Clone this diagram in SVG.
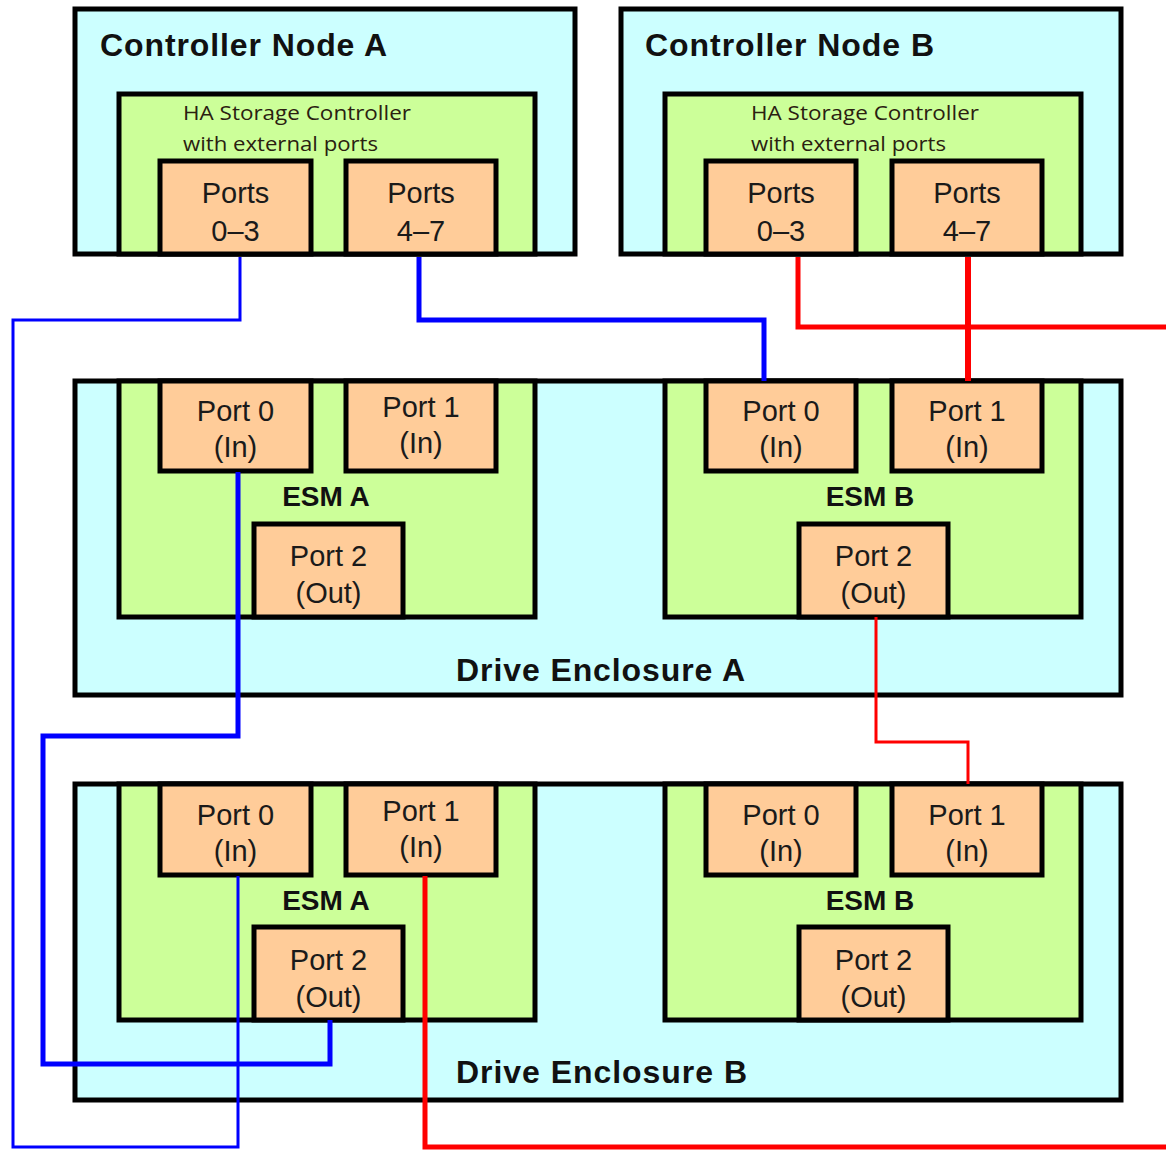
<svg xmlns="http://www.w3.org/2000/svg" width="1166" height="1151" viewBox="0 0 1166 1151">
  <style>
    .outer { fill: #CCFFFF; stroke: #000; stroke-width: 5; }
    .module { fill: #CCFF99; stroke: #000; stroke-width: 5; }
    .port { fill: #FFCC99; stroke: #000; stroke-width: 5; }
    .title { font-family: "Liberation Sans", Arial, sans-serif; font-weight: bold; font-size: 32px; fill: #111; }
    .esm { font-family: "Liberation Sans", Arial, sans-serif; font-weight: bold; font-size: 28px; fill: #111; text-anchor: middle; }
    .plabel { font-family: "Liberation Sans", Arial, sans-serif; font-size: 29px; fill: #1a1a1a; text-anchor: middle; }
    .ha { font-family: "Open Sans", "Noto Sans", sans-serif; font-size: 20px; fill: #2a2010; }
    .wire { fill: none; stroke-linejoin: miter; stroke-linecap: butt; }
    .blue { stroke: #0000FF; }
    .red { stroke: #FF0000; }
  </style>

  <!-- Controller Node A -->
  <g id="controller-a">
    <rect class="outer" x="75" y="9" width="500" height="245"/>
    <text class="title" x="100" y="56" textLength="287" lengthAdjust="spacing">Controller Node A</text>
    <rect class="module" x="119" y="94" width="416" height="160"/>
    <text class="ha" x="183" y="120" textLength="228" lengthAdjust="spacingAndGlyphs">HA Storage Controller</text>
    <text class="ha" x="183" y="151" textLength="195" lengthAdjust="spacingAndGlyphs">with external ports</text>
    <g id="controller-a-ports-0-3">
      <rect class="port" x="160" y="161" width="151" height="93"/>
      <text class="plabel" x="235.5" y="203">Ports</text>
      <text class="plabel" x="235.5" y="241">0–3</text>
    </g>
    <g id="controller-a-ports-4-7">
      <rect class="port" x="346" y="161" width="150" height="93"/>
      <text class="plabel" x="421" y="203">Ports</text>
      <text class="plabel" x="421" y="241">4–7</text>
    </g>
  </g>

  <!-- Controller Node B -->
  <g id="controller-b">
    <rect class="outer" x="621" y="9" width="500" height="245"/>
    <text class="title" x="645" y="56" textLength="289" lengthAdjust="spacing">Controller Node B</text>
    <rect class="module" x="665" y="94" width="416" height="160"/>
    <text class="ha" x="751" y="120" textLength="228" lengthAdjust="spacingAndGlyphs">HA Storage Controller</text>
    <text class="ha" x="751" y="151" textLength="195" lengthAdjust="spacingAndGlyphs">with external ports</text>
    <g id="controller-b-ports-0-3">
      <rect class="port" x="706" y="161" width="150" height="93"/>
      <text class="plabel" x="781" y="203">Ports</text>
      <text class="plabel" x="781" y="241">0–3</text>
    </g>
    <g id="controller-b-ports-4-7">
      <rect class="port" x="892" y="161" width="150" height="93"/>
      <text class="plabel" x="967" y="203">Ports</text>
      <text class="plabel" x="967" y="241">4–7</text>
    </g>
  </g>

  <!-- Drive Enclosure A -->
  <g id="enclosure-a">
    <rect class="outer" x="75" y="381" width="1046" height="314"/>
    <text class="title" x="456" y="681" textLength="289" lengthAdjust="spacing">Drive Enclosure A</text>
    <g id="enclosure-a-esm-a">
      <rect class="module" x="119" y="381" width="416" height="236"/>
      <text class="esm" x="326" y="506">ESM A</text>
      <rect class="port" x="160" y="381" width="151" height="90"/>
      <text class="plabel" x="235.5" y="421">Port 0</text>
      <text class="plabel" x="235.5" y="457">(In)</text>
      <rect class="port" x="346" y="381" width="150" height="90"/>
      <text class="plabel" x="421" y="417">Port 1</text>
      <text class="plabel" x="421" y="453">(In)</text>
      <rect class="port" x="254" y="524" width="149" height="93"/>
      <text class="plabel" x="328.5" y="566">Port 2</text>
      <text class="plabel" x="328.5" y="603">(Out)</text>
    </g>
    <g id="enclosure-a-esm-b">
      <rect class="module" x="665" y="381" width="416" height="236"/>
      <text class="esm" x="870" y="506">ESM B</text>
      <rect class="port" x="706" y="381" width="150" height="90"/>
      <text class="plabel" x="781" y="421">Port 0</text>
      <text class="plabel" x="781" y="457">(In)</text>
      <rect class="port" x="892" y="381" width="150" height="90"/>
      <text class="plabel" x="967" y="421">Port 1</text>
      <text class="plabel" x="967" y="457">(In)</text>
      <rect class="port" x="799" y="524" width="149" height="93"/>
      <text class="plabel" x="873.5" y="566">Port 2</text>
      <text class="plabel" x="873.5" y="603">(Out)</text>
    </g>
  </g>

  <!-- Drive Enclosure B -->
  <g id="enclosure-b">
    <rect class="outer" x="75" y="784" width="1046" height="316"/>
    <text class="title" x="456" y="1083" textLength="291" lengthAdjust="spacing">Drive Enclosure B</text>
    <g id="enclosure-b-esm-a">
      <rect class="module" x="119" y="784" width="416" height="236"/>
      <text class="esm" x="326" y="910">ESM A</text>
      <rect class="port" x="160" y="784" width="151" height="91"/>
      <text class="plabel" x="235.5" y="825">Port 0</text>
      <text class="plabel" x="235.5" y="861">(In)</text>
      <rect class="port" x="346" y="784" width="150" height="91"/>
      <text class="plabel" x="421" y="821">Port 1</text>
      <text class="plabel" x="421" y="857">(In)</text>
      <rect class="port" x="254" y="927" width="149" height="93"/>
      <text class="plabel" x="328.5" y="970">Port 2</text>
      <text class="plabel" x="328.5" y="1007">(Out)</text>
    </g>
    <g id="enclosure-b-esm-b">
      <rect class="module" x="665" y="784" width="416" height="236"/>
      <text class="esm" x="870" y="910">ESM B</text>
      <rect class="port" x="706" y="784" width="150" height="91"/>
      <text class="plabel" x="781" y="825">Port 0</text>
      <text class="plabel" x="781" y="861">(In)</text>
      <rect class="port" x="892" y="784" width="150" height="91"/>
      <text class="plabel" x="967" y="825">Port 1</text>
      <text class="plabel" x="967" y="861">(In)</text>
      <rect class="port" x="799" y="927" width="149" height="93"/>
      <text class="plabel" x="873.5" y="970">Port 2</text>
      <text class="plabel" x="873.5" y="1007">(Out)</text>
    </g>
  </g>

  <!-- Cabling -->
  <g id="connectors">
    <path class="wire blue" stroke-width="3" d="M240,257 V320 H13 V1147 H238 V876"/>
    <path class="wire blue" stroke-width="5" d="M419,257 V320 H764 V381"/>
    <path class="wire blue" stroke-width="5" d="M238,472 V736 H43 V1064 H330 V1020"/>
    <path class="wire red" stroke-width="6" d="M968,257 V381"/>
    <path class="wire red" stroke-width="5" d="M798,257 V327 H1166"/>
    <path class="wire red" stroke-width="3" d="M876,617 V742 H968 V784"/>
    <path class="wire red" stroke-width="5" d="M425,876 V1147 H1166"/>
  </g>
</svg>
